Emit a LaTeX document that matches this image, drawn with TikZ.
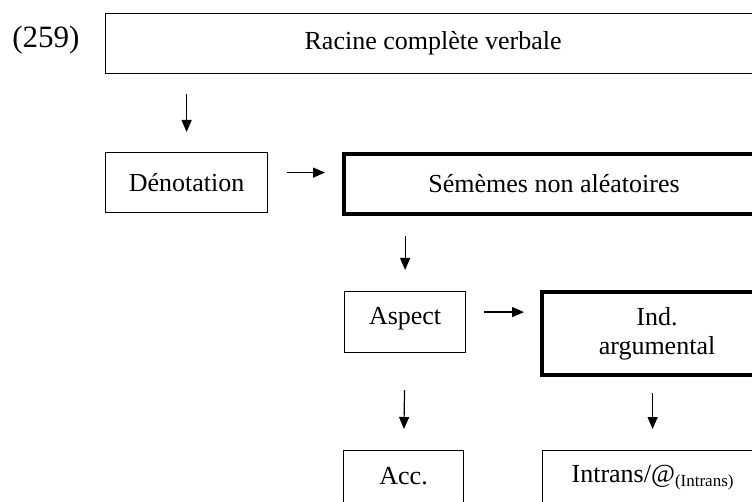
\documentclass[tikz,border=0pt]{standalone}
\usepackage{fontspec}
\setmainfont{Liberation Serif}
\usetikzlibrary{arrows.meta}
\tikzset{
  box/.style={draw, line width=1.2pt, rectangle, inner sep=0pt, anchor=north west, align=center},
  thickbox/.style={box, line width=4pt},
  arr/.style={-{Triangle[length=12pt,width=10pt]}, line width=1.2pt}
}

\begin{document}
\begin{tikzpicture}[x=1pt,y=-1pt,font=\fontsize{26}{29}\selectfont]%

\def\W{752}
\def\H{502}
\def\hb{60} %height of one-line boxes

\useasboundingbox (0,0) rectangle (\W,\H);
\clip (0,0) rectangle (\W,\H);

%example number
\node[font=\fontsize{31}{34}\selectfont] (num) at (46,40) {(259)};

%boxes
\node[box, minimum width=655, minimum height=\hb] (racine) at (105,13) {Racine complète verbale};
\node[box, minimum width=162, minimum height=\hb] (denot) at (105,152) {Dénotation};
\node[thickbox, minimum width=420, minimum height=\hb] (semem) at (342,152) {Sémèmes non aléatoires};
\node[box, minimum width=121, minimum height=61, text height=18pt, text depth=14pt] (aspect) at (344,291) {Aspect};
\node[thickbox, minimum width=230, minimum height=83] (ind) at (540,290) {Ind.\\argumental};
%bottom boxes run past the lower edge
\node[box, minimum width=120, text height=34pt, text depth=46pt] (acc) at (343,450) {Acc.};
\node[box, minimum width=220, text height=32pt, text depth=48pt] (intrans) at (542,450)
  {Intrans/@\raisebox{-4pt}{\fontsize{17}{17}\selectfont (Intrans)}};

%arrows
\draw[arr, shorten <=20pt, shorten >=20pt] (denot.north |- racine.south) -- (denot.north);
\draw[arr, shorten <=19pt, shorten >=17pt] ([yshift=10pt]denot.east) -- ([yshift=10pt]denot.east -| semem.west);
\draw[arr, shorten <=20pt, shorten >=21pt] (aspect.north |- semem.south) -- (aspect.north);
\draw[arr, shorten <=18pt, shorten >=16pt] ([yshift=10pt]aspect.east) -- ([yshift=10pt]aspect.east -| ind.west);
\draw[arr, shorten <=37pt, shorten >=21pt] (aspect.south) -- (acc.north);
\draw[arr, shorten <=16pt, shorten >=21pt] (intrans.north |- ind.south) -- (intrans.north);

\end{tikzpicture}
\end{document}
